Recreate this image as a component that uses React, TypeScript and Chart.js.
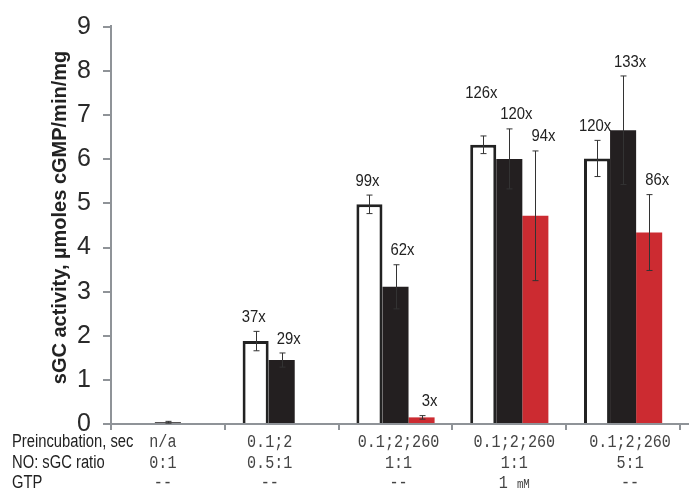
import React, { useEffect, useRef } from "react";
import { Chart, registerables } from "chart.js";

Chart.register(...registerables);

// Conditions per group (bottom table)
const preincubation = ["n/a", "0.1;2", "0.1;2;260", "0.1;2;260", "0.1;2;260"];
const noRatio = ["0:1", "0.5:1", "1:1", "1:1", "5:1"];
const gtp = ["--", "--", "--", "1 mM", "--"];
const rowTitles = ["Preincubation, sec", "NO: sGC ratio", "GTP"];

// sGC activity, µmoles cGMP/min/mg (mean ± error)
const whiteVals = [null, 1.88, 4.98, 6.33, 6.02];
const whiteErr = [null, 0.22, 0.21, 0.2, 0.41];
const whiteFold = [null, "37x", "99x", "126x", "120x"];

const blackVals = [0.04, 1.45, 3.11, 6.01, 6.66];
const blackErr = [0.02, 0.16, 0.5, 0.68, 1.23];
const blackFold = [null, "29x", "62x", "120x", "133x"];

const redVals = [null, null, 0.15, 4.72, 4.34];
const redErr = [null, null, 0.04, 1.47, 0.86];
const redFold = [null, null, "3x", "94x", "86x"];

const yTicksMax = 9;
const yTitle = "sGC activity, µmoles cGMP/min/mg";

const AXIS_GRAY = "#8f9398";
const SANS = "'Liberation Sans', Arial, sans-serif";
const MONO = "'Liberation Mono', 'Courier New', monospace";

const seriesVals = [whiteVals, blackVals, redVals];
const seriesErr = [whiteErr, blackErr, redErr];
const seriesFold = [whiteFold, blackFold, redFold];
const foldShift = [-2, 7, 8];
const tableShift = [-5, -12, 3, 5, 7];

function scaledText(ctx: CanvasRenderingContext2D, text: string, x: number, y: number, sx: number) {
  ctx.save();
  ctx.translate(x, y);
  ctx.scale(sx, 1);
  ctx.fillText(text, 0, 0);
  ctx.restore();
}

const annotations = {
  id: "annotations",
  afterDatasetsDraw(chart: any) {
    const ctx: CanvasRenderingContext2D = chart.ctx;
    const ys = chart.scales.y;

    // error bars
    ctx.save();
    ctx.strokeStyle = "#333";
    ctx.lineWidth = 1;
    seriesVals.forEach((vals, di) => {
      const meta = chart.getDatasetMeta(di);
      vals.forEach((v, j) => {
        const e = seriesErr[di][j];
        if (v == null || e == null) return;
        const px = Math.round(meta.data[j].x) + 0.5;
        const top = ys.getPixelForValue(v + e);
        const bot = ys.getPixelForValue(Math.max(0, v - e));
        ctx.beginPath();
        ctx.moveTo(px, top);
        ctx.lineTo(px, bot);
        ctx.moveTo(px - 3, top);
        ctx.lineTo(px + 3, top);
        ctx.moveTo(px - 3, bot);
        ctx.lineTo(px + 3, bot);
        ctx.stroke();
      });
    });
    ctx.restore();

    // fold-increase labels, nudged upward when they collide with a neighbour
    ctx.save();
    const sx = 0.9;
    ctx.font = `16.5px ${SANS}`;
    ctx.fillStyle = "#222";
    ctx.textAlign = "center";
    ctx.textBaseline = "middle";
    const placed: { x: number; y: number; w: number }[] = [];
    for (let j = 0; j < whiteVals.length; j++) {
      for (let di = 2; di >= 0; di--) {
        const label = seriesFold[di][j];
        const v = seriesVals[di][j];
        if (!label || v == null) continue;
        const e = seriesErr[di][j] || 0;
        const meta = chart.getDatasetMeta(di);
        const x = meta.data[j].x + foldShift[di];
        let y = ys.getPixelForValue(v + e) - 14;
        const w = ctx.measureText(label).width * sx;
        for (const p of placed) {
          const hOverlap = Math.abs(p.x - x) < (p.w + w) / 2 + 6;
          if (hOverlap && Math.abs(p.y - y) < 20) y = p.y - 21;
        }
        placed.push({ x, y, w });
        scaledText(ctx, label, x, y, sx);
      }
    }
    ctx.restore();
  },
  afterDraw(chart: any) {
    const ctx: CanvasRenderingContext2D = chart.ctx;
    const area = chart.chartArea;
    const xs = chart.scales.x;

    // axis line continues to the edge
    ctx.save();
    ctx.strokeStyle = AXIS_GRAY;
    ctx.lineWidth = 2;
    ctx.beginPath();
    ctx.moveTo(area.right, area.bottom);
    ctx.lineTo(chart.width, area.bottom);
    ctx.moveTo(area.left, area.top);
    ctx.lineTo(area.left, area.top - 2);
    ctx.stroke();
    ctx.restore();

    // y axis title
    ctx.save();
    ctx.translate(60, (area.top + area.bottom) / 2 - 8);
    ctx.rotate(-Math.PI / 2);
    ctx.font = `bold 20px ${SANS}`;
    ctx.fillStyle = "#222";
    ctx.textAlign = "center";
    ctx.textBaseline = "middle";
    ctx.fillText(yTitle, 0, 0);
    ctx.restore();

    // condition table
    const rowY = [442, 463, 483];
    ctx.save();
    ctx.textBaseline = "middle";
    ctx.fillStyle = "#222";
    ctx.font = `18px ${SANS}`;
    ctx.textAlign = "left";
    rowTitles.forEach((t, r) => scaledText(ctx, t, 12, rowY[r], 0.82));

    ctx.fillStyle = "#444";
    ctx.textAlign = "center";
    const rows = [preincubation, noRatio, gtp];
    rows.forEach((row, r) => {
      row.forEach((txt, j) => {
        const cx = xs.getPixelForValue(j) + tableShift[j];
        const parts = txt.split(" ");
        if (parts.length === 2 && /^[a-zA-Z]+$/.test(parts[1])) {
          // number followed by a small unit
          ctx.font = `18px ${MONO}`;
          const w1 = ctx.measureText(parts[0] + " ").width * 0.84;
          ctx.font = `12px ${MONO}`;
          const w2 = ctx.measureText(parts[1]).width * 0.9;
          const start = cx - (w1 + w2) / 2;
          ctx.textAlign = "left";
          ctx.font = `18px ${MONO}`;
          scaledText(ctx, parts[0], start, rowY[r], 0.84);
          ctx.font = `12px ${MONO}`;
          scaledText(ctx, parts[1], start + w1, rowY[r] + 2, 0.9);
          ctx.textAlign = "center";
        } else {
          ctx.font = `18px ${MONO}`;
          scaledText(ctx, txt, cx, rowY[r], 0.84);
        }
      });
    });
    ctx.restore();
  },
};

export default function App() {
  const canvasRef = useRef<HTMLCanvasElement | null>(null);

  useEffect(() => {
    const canvas = canvasRef.current;
    if (!canvas) return;
    const chart = new Chart(canvas, {
      type: "bar",
      data: {
        labels: preincubation.map((p, i) => `${p} | ${noRatio[i]} | ${gtp[i]}`),
        datasets: [
          {
            data: whiteVals as any,
            backgroundColor: "#ffffff",
            borderColor: "#222222",
            borderWidth: 3,
          },
          {
            data: blackVals as any,
            backgroundColor: "#231f20",
            borderWidth: 0,
          },
          {
            data: redVals as any,
            backgroundColor: "#cc2b31",
            borderWidth: 0,
          },
        ],
      },
      options: {
        animation: false,
        responsive: false,
        maintainAspectRatio: false,
        datasets: {
          bar: { categoryPercentage: 0.687, barPercentage: 1 },
        },
        layout: { padding: { top: 22, right: 9, left: 0, bottom: 0 } },
        plugins: {
          legend: { display: false },
          tooltip: { enabled: false },
        },
        scales: {
          x: {
            offset: true,
            grid: {
              offset: true,
              drawOnChartArea: false,
              drawTicks: true,
              tickLength: 6,
              color: AXIS_GRAY,
              lineWidth: 2,
            },
            border: { display: true, color: AXIS_GRAY, width: 2 },
            ticks: { display: false },
            afterFit(scale: any) {
              scale.height = 70;
            },
          },
          y: {
            min: 0,
            max: yTicksMax,
            ticks: {
              stepSize: 1,
              color: "#2a2a2a",
              padding: 12,
              font: { family: SANS, size: 25 },
            },
            grid: {
              drawOnChartArea: false,
              drawTicks: true,
              tickLength: 8,
              color: AXIS_GRAY,
              lineWidth: 2,
            },
            border: { display: true, color: AXIS_GRAY, width: 2 },
            afterFit(scale: any) {
              scale.width = 111;
            },
          },
        },
      },
      plugins: [annotations],
    });
    return () => chart.destroy();
  }, []);

  return (
    <div style={{ position: "fixed", left: 0, top: 0, width: 689, height: 494, background: "#fff" }}>
      <canvas ref={canvasRef} width={689} height={494} style={{ width: 689, height: 494 }} />
    </div>
  );
}
